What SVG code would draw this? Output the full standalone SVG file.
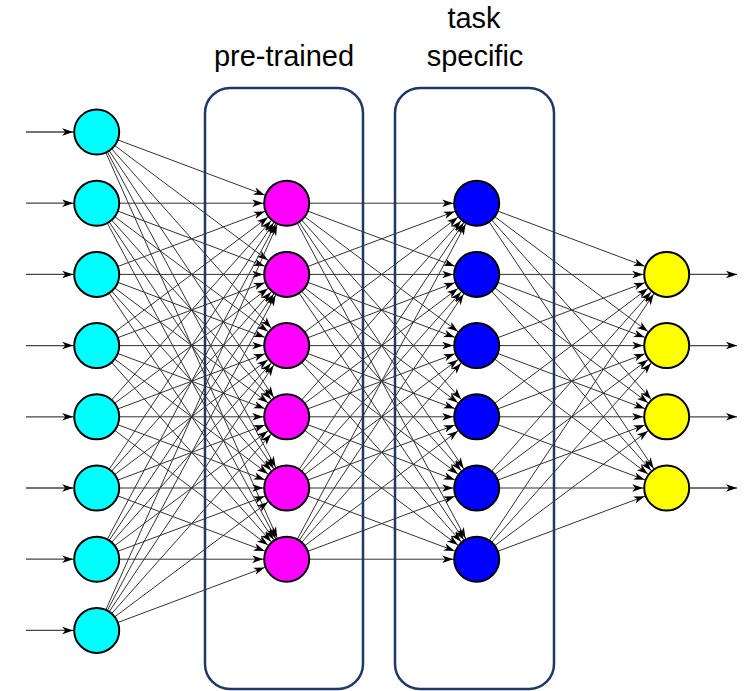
<svg xmlns="http://www.w3.org/2000/svg" width="747" height="691" viewBox="0 0 747 691">
<defs>
<style>
.box{fill:none;stroke:#1f3864;stroke-width:2.5}
.lbl{font-family:"Liberation Sans",Arial,sans-serif;font-size:29px;fill:#000;text-anchor:middle}
.c line{stroke:#333;stroke-width:1;marker-end:url(#ah)}
.io{stroke:#444;stroke-width:1.3}
.nd{stroke:#000;stroke-width:2}
.cy{fill:#00ffff}.mg{fill:#ff00ff}.bl{fill:#0000ff}.yl{fill:#ffff00}
</style>
<marker id="ah" markerUnits="userSpaceOnUse" markerWidth="12" markerHeight="8" refX="34.5" refY="3.75" orient="auto" overflow="visible">
<path d="M0,0 L11,3.75 L0,7.5 L3,3.75 z" fill="#000"/>
</marker>
<marker id="ai" markerUnits="userSpaceOnUse" markerWidth="12" markerHeight="8" refX="11" refY="3.75" orient="auto" overflow="visible">
<path d="M0,0 L11,3.75 L0,7.5 L3,3.75 z" fill="#000"/>
</marker>
</defs>
<rect width="747" height="691" fill="#fff"/>
<g id="labels">
<text class="lbl" x="284" y="66">pre-trained</text>
<text class="lbl" x="474" y="28">task</text>
<text class="lbl" x="475" y="66">specific</text>
</g>
<g id="box-pretrained"><rect class="box" x="205" y="88" width="158" height="601" rx="25"/></g>
<g id="box-task"><rect class="box" x="395" y="88" width="159" height="601" rx="25"/></g>
<g id="connectors">
<g class="c">
<line x1="96.7" y1="132" x2="286.7" y2="203.2"/><line x1="96.7" y1="132" x2="286.7" y2="274.4"/><line x1="96.7" y1="132" x2="286.7" y2="345.6"/><line x1="96.7" y1="132" x2="286.7" y2="416.8"/><line x1="96.7" y1="132" x2="286.7" y2="488"/><line x1="96.7" y1="132" x2="286.7" y2="559.2"/>
<line x1="96.7" y1="203.2" x2="286.7" y2="203.2"/><line x1="96.7" y1="203.2" x2="286.7" y2="274.4"/><line x1="96.7" y1="203.2" x2="286.7" y2="345.6"/><line x1="96.7" y1="203.2" x2="286.7" y2="416.8"/><line x1="96.7" y1="203.2" x2="286.7" y2="488"/><line x1="96.7" y1="203.2" x2="286.7" y2="559.2"/>
<line x1="96.7" y1="274.4" x2="286.7" y2="203.2"/><line x1="96.7" y1="274.4" x2="286.7" y2="274.4"/><line x1="96.7" y1="274.4" x2="286.7" y2="345.6"/><line x1="96.7" y1="274.4" x2="286.7" y2="416.8"/><line x1="96.7" y1="274.4" x2="286.7" y2="488"/><line x1="96.7" y1="274.4" x2="286.7" y2="559.2"/>
<line x1="96.7" y1="345.6" x2="286.7" y2="203.2"/><line x1="96.7" y1="345.6" x2="286.7" y2="274.4"/><line x1="96.7" y1="345.6" x2="286.7" y2="345.6"/><line x1="96.7" y1="345.6" x2="286.7" y2="416.8"/><line x1="96.7" y1="345.6" x2="286.7" y2="488"/><line x1="96.7" y1="345.6" x2="286.7" y2="559.2"/>
<line x1="96.7" y1="416.8" x2="286.7" y2="203.2"/><line x1="96.7" y1="416.8" x2="286.7" y2="274.4"/><line x1="96.7" y1="416.8" x2="286.7" y2="345.6"/><line x1="96.7" y1="416.8" x2="286.7" y2="416.8"/><line x1="96.7" y1="416.8" x2="286.7" y2="488"/><line x1="96.7" y1="416.8" x2="286.7" y2="559.2"/>
<line x1="96.7" y1="488" x2="286.7" y2="203.2"/><line x1="96.7" y1="488" x2="286.7" y2="274.4"/><line x1="96.7" y1="488" x2="286.7" y2="345.6"/><line x1="96.7" y1="488" x2="286.7" y2="416.8"/><line x1="96.7" y1="488" x2="286.7" y2="488"/><line x1="96.7" y1="488" x2="286.7" y2="559.2"/>
<line x1="96.7" y1="559.2" x2="286.7" y2="203.2"/><line x1="96.7" y1="559.2" x2="286.7" y2="274.4"/><line x1="96.7" y1="559.2" x2="286.7" y2="345.6"/><line x1="96.7" y1="559.2" x2="286.7" y2="416.8"/><line x1="96.7" y1="559.2" x2="286.7" y2="488"/><line x1="96.7" y1="559.2" x2="286.7" y2="559.2"/>
<line x1="96.7" y1="630.4" x2="286.7" y2="203.2"/><line x1="96.7" y1="630.4" x2="286.7" y2="274.4"/><line x1="96.7" y1="630.4" x2="286.7" y2="345.6"/><line x1="96.7" y1="630.4" x2="286.7" y2="416.8"/><line x1="96.7" y1="630.4" x2="286.7" y2="488"/><line x1="96.7" y1="630.4" x2="286.7" y2="559.2"/>

<line x1="286.7" y1="203.2" x2="476.7" y2="203.2"/><line x1="286.7" y1="203.2" x2="476.7" y2="274.4"/><line x1="286.7" y1="203.2" x2="476.7" y2="345.6"/><line x1="286.7" y1="203.2" x2="476.7" y2="416.8"/><line x1="286.7" y1="203.2" x2="476.7" y2="488"/><line x1="286.7" y1="203.2" x2="476.7" y2="559.2"/>
<line x1="286.7" y1="274.4" x2="476.7" y2="203.2"/><line x1="286.7" y1="274.4" x2="476.7" y2="274.4"/><line x1="286.7" y1="274.4" x2="476.7" y2="345.6"/><line x1="286.7" y1="274.4" x2="476.7" y2="416.8"/><line x1="286.7" y1="274.4" x2="476.7" y2="488"/><line x1="286.7" y1="274.4" x2="476.7" y2="559.2"/>
<line x1="286.7" y1="345.6" x2="476.7" y2="203.2"/><line x1="286.7" y1="345.6" x2="476.7" y2="274.4"/><line x1="286.7" y1="345.6" x2="476.7" y2="345.6"/><line x1="286.7" y1="345.6" x2="476.7" y2="416.8"/><line x1="286.7" y1="345.6" x2="476.7" y2="488"/><line x1="286.7" y1="345.6" x2="476.7" y2="559.2"/>
<line x1="286.7" y1="416.8" x2="476.7" y2="203.2"/><line x1="286.7" y1="416.8" x2="476.7" y2="274.4"/><line x1="286.7" y1="416.8" x2="476.7" y2="345.6"/><line x1="286.7" y1="416.8" x2="476.7" y2="416.8"/><line x1="286.7" y1="416.8" x2="476.7" y2="488"/><line x1="286.7" y1="416.8" x2="476.7" y2="559.2"/>
<line x1="286.7" y1="488" x2="476.7" y2="203.2"/><line x1="286.7" y1="488" x2="476.7" y2="274.4"/><line x1="286.7" y1="488" x2="476.7" y2="345.6"/><line x1="286.7" y1="488" x2="476.7" y2="416.8"/><line x1="286.7" y1="488" x2="476.7" y2="488"/><line x1="286.7" y1="488" x2="476.7" y2="559.2"/>
<line x1="286.7" y1="559.2" x2="476.7" y2="203.2"/><line x1="286.7" y1="559.2" x2="476.7" y2="274.4"/><line x1="286.7" y1="559.2" x2="476.7" y2="345.6"/><line x1="286.7" y1="559.2" x2="476.7" y2="416.8"/><line x1="286.7" y1="559.2" x2="476.7" y2="488"/><line x1="286.7" y1="559.2" x2="476.7" y2="559.2"/>

<line x1="476.7" y1="203.2" x2="666.7" y2="274.4"/><line x1="476.7" y1="203.2" x2="666.7" y2="345.6"/><line x1="476.7" y1="203.2" x2="666.7" y2="416.8"/><line x1="476.7" y1="203.2" x2="666.7" y2="488"/>
<line x1="476.7" y1="274.4" x2="666.7" y2="274.4"/><line x1="476.7" y1="274.4" x2="666.7" y2="345.6"/><line x1="476.7" y1="274.4" x2="666.7" y2="416.8"/><line x1="476.7" y1="274.4" x2="666.7" y2="488"/>
<line x1="476.7" y1="345.6" x2="666.7" y2="274.4"/><line x1="476.7" y1="345.6" x2="666.7" y2="345.6"/><line x1="476.7" y1="345.6" x2="666.7" y2="416.8"/><line x1="476.7" y1="345.6" x2="666.7" y2="488"/>
<line x1="476.7" y1="416.8" x2="666.7" y2="274.4"/><line x1="476.7" y1="416.8" x2="666.7" y2="345.6"/><line x1="476.7" y1="416.8" x2="666.7" y2="416.8"/><line x1="476.7" y1="416.8" x2="666.7" y2="488"/>
<line x1="476.7" y1="488" x2="666.7" y2="274.4"/><line x1="476.7" y1="488" x2="666.7" y2="345.6"/><line x1="476.7" y1="488" x2="666.7" y2="416.8"/><line x1="476.7" y1="488" x2="666.7" y2="488"/>
<line x1="476.7" y1="559.2" x2="666.7" y2="274.4"/><line x1="476.7" y1="559.2" x2="666.7" y2="345.6"/><line x1="476.7" y1="559.2" x2="666.7" y2="416.8"/><line x1="476.7" y1="559.2" x2="666.7" y2="488"/>
</g>
<g class="io">
<line x1="26" y1="132" x2="73.2" y2="132" marker-end="url(#ai)"/><line x1="26" y1="203.2" x2="73.2" y2="203.2" marker-end="url(#ai)"/><line x1="26" y1="274.4" x2="73.2" y2="274.4" marker-end="url(#ai)"/><line x1="26" y1="345.6" x2="73.2" y2="345.6" marker-end="url(#ai)"/><line x1="26" y1="416.8" x2="73.2" y2="416.8" marker-end="url(#ai)"/><line x1="26" y1="488" x2="73.2" y2="488" marker-end="url(#ai)"/><line x1="26" y1="559.2" x2="73.2" y2="559.2" marker-end="url(#ai)"/><line x1="26" y1="630.4" x2="73.2" y2="630.4" marker-end="url(#ai)"/>
<line x1="690.2" y1="274.4" x2="737" y2="274.4" marker-end="url(#ai)"/><line x1="690.2" y1="345.6" x2="737" y2="345.6" marker-end="url(#ai)"/><line x1="690.2" y1="416.8" x2="737" y2="416.8" marker-end="url(#ai)"/><line x1="690.2" y1="488" x2="737" y2="488" marker-end="url(#ai)"/>
</g>
</g>
<g id="input-layer">
<circle id="in1" class="nd cy" cx="96.7" cy="132" r="22.5"/><circle id="in2" class="nd cy" cx="96.7" cy="203.2" r="22.5"/><circle id="in3" class="nd cy" cx="96.7" cy="274.4" r="22.5"/><circle id="in4" class="nd cy" cx="96.7" cy="345.6" r="22.5"/><circle id="in5" class="nd cy" cx="96.7" cy="416.8" r="22.5"/><circle id="in6" class="nd cy" cx="96.7" cy="488" r="22.5"/><circle id="in7" class="nd cy" cx="96.7" cy="559.2" r="22.5"/><circle id="in8" class="nd cy" cx="96.7" cy="630.4" r="22.5"/>
</g>
<g id="pretrained-layer">
<circle id="p1" class="nd mg" cx="286.7" cy="203.2" r="22.5"/><circle id="p2" class="nd mg" cx="286.7" cy="274.4" r="22.5"/><circle id="p3" class="nd mg" cx="286.7" cy="345.6" r="22.5"/><circle id="p4" class="nd mg" cx="286.7" cy="416.8" r="22.5"/><circle id="p5" class="nd mg" cx="286.7" cy="488" r="22.5"/><circle id="p6" class="nd mg" cx="286.7" cy="559.2" r="22.5"/>
</g>
<g id="task-layer">
<circle id="t1" class="nd bl" cx="476.7" cy="203.2" r="22.5"/><circle id="t2" class="nd bl" cx="476.7" cy="274.4" r="22.5"/><circle id="t3" class="nd bl" cx="476.7" cy="345.6" r="22.5"/><circle id="t4" class="nd bl" cx="476.7" cy="416.8" r="22.5"/><circle id="t5" class="nd bl" cx="476.7" cy="488" r="22.5"/><circle id="t6" class="nd bl" cx="476.7" cy="559.2" r="22.5"/>
</g>
<g id="output-layer">
<circle id="o1" class="nd yl" cx="666.7" cy="274.4" r="22.5"/><circle id="o2" class="nd yl" cx="666.7" cy="345.6" r="22.5"/><circle id="o3" class="nd yl" cx="666.7" cy="416.8" r="22.5"/><circle id="o4" class="nd yl" cx="666.7" cy="488" r="22.5"/>
</g>
</svg>
